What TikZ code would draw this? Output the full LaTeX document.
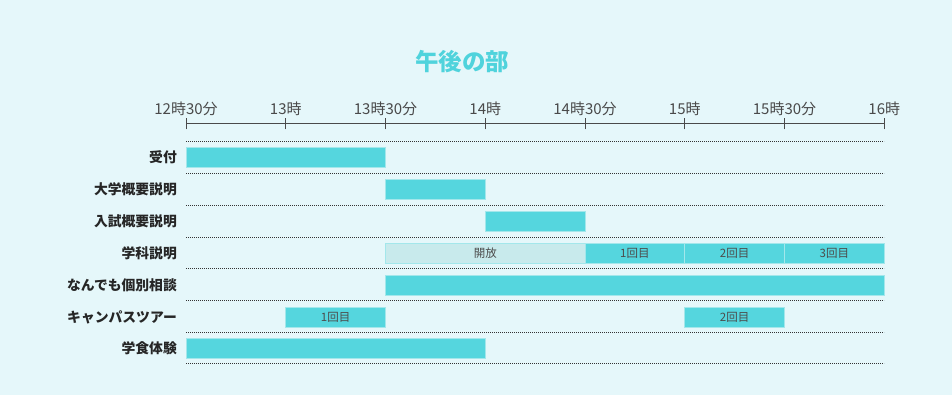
\documentclass[tikz,border=0pt]{standalone}
\usepackage{fontspec}
\setmainfont{Noto Sans CJK JP}
\usetikzlibrary{positioning}
\definecolor{bg_cyan}{HTML}{E5F7FA}
\definecolor{bar_cyan}{HTML}{55D6DE}
\definecolor{bar_edge}{HTML}{A3E7EB}
\definecolor{open_cyan}{HTML}{C8EAEC}
\definecolor{title_cyan}{HTML}{4FD3DC}
\definecolor{axis_gray}{HTML}{4A4A4A}
\tikzset{
	node_bar/.style = {
		rectangle,
		fill=bar_cyan,
		draw=bar_edge,
		line width=0.8pt,
		inner sep=0pt,
		outer sep=0pt,
		minimum height=20pt,
		anchor=north west,
		text=black!70,
		font=\fontsize{11.5}{11.5}\selectfont
	},
	node_open/.style = {
		node_bar,
		fill=open_cyan
	},
	node_row/.style = {
		anchor=east,
		inner sep=0pt,
		text=black!85,
		font=\bfseries\fontsize{13.8}{14}\selectfont
	},
	node_time/.style = {
		anchor=base,
		inner sep=0pt,
		text=axis_gray,
		font=\fontsize{15}{15}\selectfont
	},
	row_line/.style = {
		draw=black!80,
		line width=0.7pt,
		dash pattern=on 0.7pt off 1.3pt
	},
}

\begin{document}
\begin{tikzpicture}[x=1pt, y=-1pt]
\fill[bg_cyan] (0,0) rectangle (952,395);
\useasboundingbox (0,0) rectangle (952,395);

\node [text=title_cyan, font=\bfseries\fontsize{23.5}{23.5}\selectfont] (title) at (462,62) {午後の部};

% time axis
\foreach \i/\lab in {0/12時30分, 1/13時, 2/13時30分, 3/14時, 4/14時30分, 5/15時, 6/15時30分, 7/16時} {
	\coordinate (t\i) at (186+99.75*\i,124);
	\node [node_time] (lab\i) at (186+99.75*\i,114.5) {\lab};
	\draw [axis_gray, line width=1pt] ([yshift=-5.5pt]t\i) -- ([yshift=5.5pt]t\i);
}
\draw [axis_gray, line width=1pt] (t0) -- (t7);

% row separators
\foreach \y in {141,173,205,237,268.5,300,332,363.5}
	\draw [row_line] (186,\y) -- (884,\y);

% row labels
\node [node_row] (r_uketsuke) at (177,157) {受付};
\node [node_row] (r_daigaku) at (177,189) {大学概要説明};
\node [node_row] (r_nyushi) at (177,221) {入試概要説明};
\node [node_row] (r_gakka) at (177,253) {学科説明};
\node [node_row] (r_nandemo) at (177,285) {なんでも個別相談};
\node [node_row] (r_tour) at (177,317) {キャンパスツアー};
\node [node_row] (r_shoku) at (177,348) {学食体験};

% bars
\node [node_bar, minimum width=199.5pt] (b_uketsuke) at (186,147) {};
\node [node_bar, minimum width=99.75pt] (b_daigaku) at (385.5,179) {};
\node [node_bar, minimum width=99.75pt] (b_nyushi) at (485.25,211) {};
\node [node_open, minimum width=199.5pt] (b_kaiho) at (385.5,243) {開放};
\node [node_bar, minimum width=99.75pt] (b_gakka1) at (585,243) {1回目};
\node [node_bar, minimum width=99.75pt] (b_gakka2) at (684.75,243) {2回目};
\node [node_bar, minimum width=99.75pt] (b_gakka3) at (784.5,243) {3回目};
\node [node_bar, minimum width=498.75pt] (b_nandemo) at (385.5,275) {};
\node [node_bar, minimum width=99.75pt] (b_tour1) at (285.75,307) {1回目};
\node [node_bar, minimum width=99.75pt] (b_tour2) at (684.75,307) {2回目};
\node [node_bar, minimum width=299.25pt] (b_shoku) at (186,338) {};
\end{tikzpicture}
\end{document}
